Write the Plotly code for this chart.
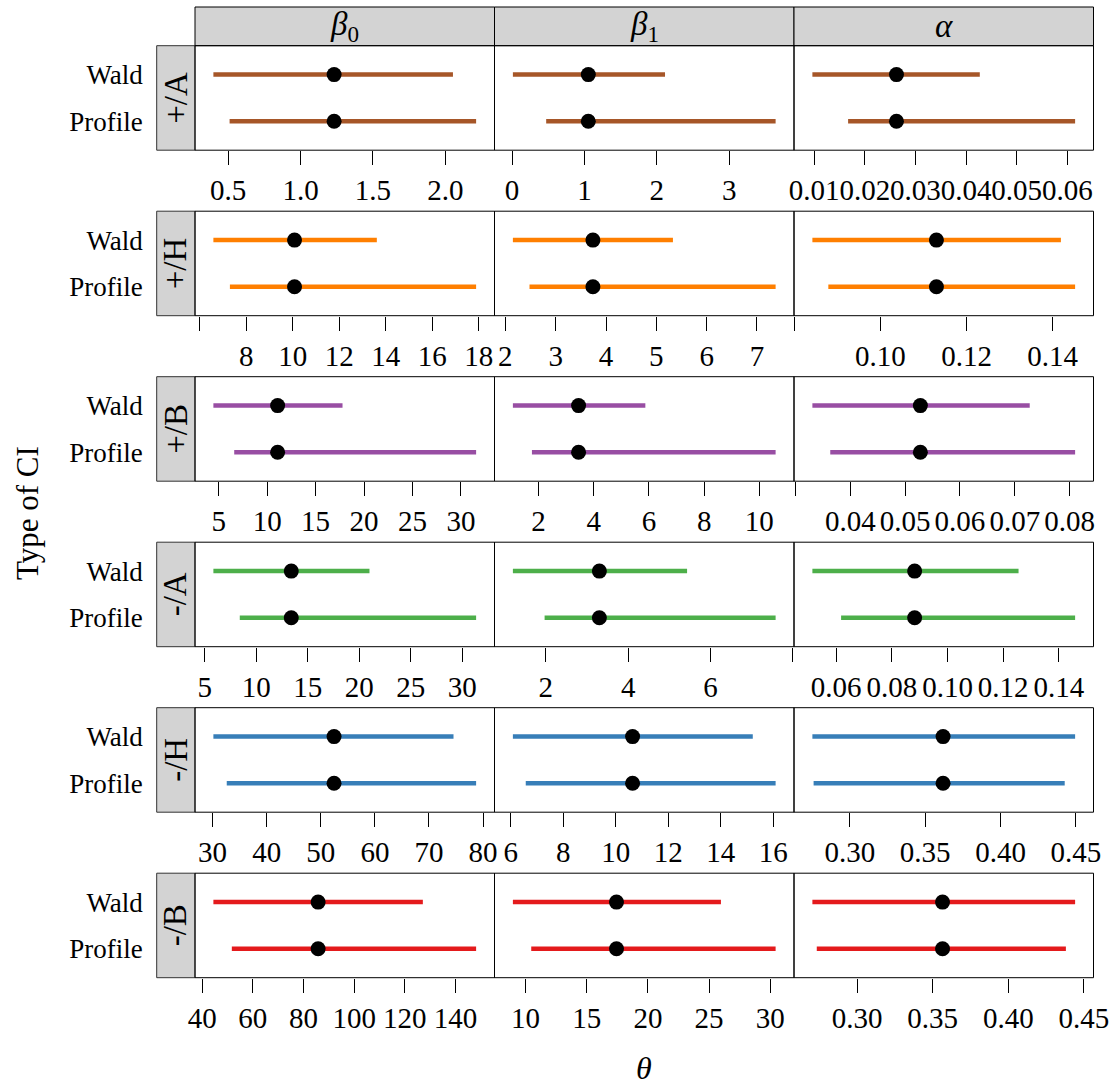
import plotly.graph_objects as go

# ---------------- data ----------------
models = ["+/A", "+/H", "+/B", "-/A", "-/H", "-/B"]
params = ["<i>β</i><sub>0</sub>", "<i>β</i><sub>1</sub>", "<i>α</i>"]
ci_types = ["Profile", "Wald"]
colors = ["#A65628", "#FF7F00", "#984EA3", "#4DAF4A", "#377EB8", "#E41A1C"]

# estimates  [model][param]
est = [
    [1.232, 1.053, 0.02626],
    [10.08, 3.74, 0.1130],
    [11.08, 3.45, 0.05278],
    [13.41, 3.30, 0.0882],
    [52.45, 10.64, 0.3619],
    [85.77, 17.43, 0.3565],
]
wald_lo = [
    [0.398, 0.011, 0.00966],
    [6.59, 2.15, 0.0842],
    [4.45, 1.07, 0.03308],
    [5.85, 1.20, 0.0515],
    [30.15, 6.08, 0.2752],
    [44.41, 8.96, 0.2704],
]
wald_hi = [
    [2.053, 2.113, 0.04271],
    [13.62, 5.33, 0.1419],
    [17.78, 5.87, 0.07273],
    [21.00, 5.43, 0.1255],
    [74.53, 15.22, 0.4495],
    [127.12, 25.97, 0.4442],
]
prof_lo = [
    [0.510, 0.471, 0.01671],
    [7.30, 2.48, 0.0879],
    [6.60, 1.76, 0.03634],
    [8.41, 1.97, 0.0618],
    [32.62, 6.57, 0.2760],
    [51.69, 10.46, 0.2733],
]
prof_hi = [
    [2.213, 3.641, 0.06153],
    [17.89, 7.37, 0.1452],
    [31.57, 10.59, 0.08101],
    [31.35, 7.58, 0.1458],
    [78.71, 16.09, 0.4426],
    [148.15, 30.44, 0.4381],
]

tick_vals = [
    [[0.5, 1.0, 1.5, 2.0], [0, 1, 2, 3], [0.01, 0.02, 0.03, 0.04, 0.05, 0.06]],
    [[6, 8, 10, 12, 14, 16, 18], [2, 3, 4, 5, 6, 7], [0.08, 0.10, 0.12, 0.14]],
    [[5, 10, 15, 20, 25, 30], [2, 4, 6, 8, 10], [0.03, 0.04, 0.05, 0.06, 0.07, 0.08]],
    [[5, 10, 15, 20, 25, 30], [2, 4, 6, 8], [0.06, 0.08, 0.10, 0.12, 0.14]],
    [[30, 40, 50, 60, 70, 80], [6, 8, 10, 12, 14, 16], [0.30, 0.35, 0.40, 0.45]],
    [[40, 60, 80, 100, 120, 140], [10, 15, 20, 25, 30], [0.30, 0.35, 0.40, 0.45]],
]
tick_text = [
    [["0.5", "1.0", "1.5", "2.0"], ["0", "1", "2", "3"], ["0.01", "0.02", "0.03", "0.04", "0.05", "0.06"]],
    [["", "8", "10", "12", "14", "16", "18"], ["2", "3", "4", "5", "6", "7"], ["", "0.10", "0.12", "0.14"]],
    [["5", "10", "15", "20", "25", "30"], ["2", "4", "6", "8", "10"], ["", "0.04", "0.05", "0.06", "0.07", "0.08"]],
    [["5", "10", "15", "20", "25", "30"], ["2", "4", "6", ""], ["0.06", "0.08", "0.10", "0.12", "0.14"]],
    [["30", "40", "50", "60", "70", "80"], ["6", "8", "10", "12", "14", "16"], ["0.30", "0.35", "0.40", "0.45"]],
    [["40", "60", "80", "100", "120", "140"], ["10", "15", "20", "25", "30"], ["0.30", "0.35", "0.40", "0.45"]],
]

# ---------------- geometry (pixels) ----------------
W, H = 1109, 1086
col_edges = [195.0, 494.5, 794.0, 1093.5]
row_top0, row_step, panel_h = 45.7, 165.5, 104.5
strip_left = 156.7
strip_top = 7.0
FONT = "Liberation Serif, Times New Roman, serif"
PAD = 0.07
XTICK_SIZE = 29
YTICK_SIZE = 27

fig = go.Figure()
layout = dict(
    width=W, height=H, autosize=False,
    margin=dict(l=0, r=0, t=0, b=0, pad=0),
    paper_bgcolor="white", plot_bgcolor="white",
    showlegend=False,
    font=dict(family=FONT, color="black"),
)
shapes = []
annotations = []

for r in range(6):
    top = row_top0 + r * row_step
    y_dom = [1 - (top + panel_h) / H, 1 - top / H]
    for c in range(3):
        idx = r * 3 + c + 1
        sfx = "" if idx == 1 else str(idx)
        xref, yref = "x" + sfx, "y" + sfx
        col = colors[r]
        # CI lines
        fig.add_trace(go.Scatter(
            x=[wald_lo[r][c], wald_hi[r][c]], y=["Wald", "Wald"],
            mode="lines", line=dict(color=col, width=4.5),
            xaxis=xref, yaxis=yref, hoverinfo="skip"))
        fig.add_trace(go.Scatter(
            x=[prof_lo[r][c], prof_hi[r][c]], y=["Profile", "Profile"],
            mode="lines", line=dict(color=col, width=4.5),
            xaxis=xref, yaxis=yref, hoverinfo="skip"))
        fig.add_trace(go.Scatter(
            x=[est[r][c], est[r][c]], y=["Wald", "Profile"],
            mode="markers", marker=dict(color="black", size=15),
            xaxis=xref, yaxis=yref, hoverinfo="skip"))

        lo = min(wald_lo[r][c], prof_lo[r][c], est[r][c])
        hi = max(wald_hi[r][c], prof_hi[r][c], est[r][c])
        pad = PAD * (hi - lo)
        layout["xaxis" + sfx] = dict(
            domain=[col_edges[c] / W, col_edges[c + 1] / W],
            anchor=yref, range=[lo - pad, hi + pad], automargin=False,
            tickmode="array", tickvals=tick_vals[r][c], ticktext=tick_text[r][c],
            ticks="outside", ticklen=14, tickwidth=1, tickcolor="black",
            tickangle=0, showgrid=False, zeroline=False, showline=False,
            ticklabeloverflow="allow",
            tickfont=dict(size=XTICK_SIZE, family=FONT, color="black"),
        )
        yax = dict(
            domain=y_dom, type="category", categoryarray=ci_types, automargin=False,
            range=[-0.62, 1.62], showgrid=False, zeroline=False, showline=False,
            ticks="", showticklabels=(c == 0),
            tickfont=dict(size=YTICK_SIZE, family=FONT, color="black"),
        )
        if c == 0:
            yax.update(anchor="free", position=strip_left / W, ticklabelstandoff=14)
        else:
            yax.update(anchor=xref)
        layout["yaxis" + sfx] = yax
        # panel border
        shapes.append(dict(type="rect", xref=xref + " domain", yref=yref + " domain",
                           x0=0, x1=1, y0=0, y1=1, line=dict(color="black", width=1),
                           fillcolor="rgba(0,0,0,0)", layer="above"))
    # left strip
    shapes.append(dict(type="rect", xref="paper", yref="paper",
                       x0=strip_left / W, x1=col_edges[0] / W, y0=y_dom[0], y1=y_dom[1],
                       line=dict(color="#333333", width=1), fillcolor="#D3D3D3", layer="below"))
    annotations.append(dict(text=models[r], xref="paper", yref="paper",
                            x=(strip_left + col_edges[0]) / 2 / W, y=(y_dom[0] + y_dom[1]) / 2,
                            showarrow=False, textangle=-90,
                            font=dict(size=33, family=FONT, color="black"),
                            xanchor="center", yanchor="middle"))

# top strips
for c in range(3):
    shapes.append(dict(type="rect", xref="paper", yref="paper",
                       x0=col_edges[c] / W, x1=col_edges[c + 1] / W,
                       y0=1 - row_top0 / H, y1=1 - strip_top / H,
                       line=dict(color="black", width=1), fillcolor="#D3D3D3", layer="below"))
    annotations.append(dict(text=params[c], xref="paper", yref="paper",
                            x=(col_edges[c] + col_edges[c + 1]) / 2 / W,
                            y=1 - (strip_top + row_top0) / 2 / H,
                            showarrow=False, font=dict(size=33, family=FONT, color="black"),
                            xanchor="center", yanchor="middle"))

# axis titles
annotations.append(dict(text="<i>θ</i>", xref="paper", yref="paper",
                        x=(col_edges[0] + col_edges[3]) / 2 / W, y=1 - 1068 / H,
                        showarrow=False, font=dict(size=32, family=FONT, color="black"),
                        xanchor="center", yanchor="middle"))
annotations.append(dict(text="Type of CI", xref="paper", yref="paper",
                        x=27 / W, y=1 - 513 / H, textangle=-90,
                        showarrow=False, font=dict(size=31, family=FONT, color="black"),
                        xanchor="center", yanchor="middle"))

layout["shapes"] = shapes
layout["annotations"] = annotations
fig.update_layout(**layout)
fig.write_html(
    "out.html",
    config={"displayModeBar": False},
    post_script="document.body.style.margin='0';document.body.style.overflow='hidden';",
)
